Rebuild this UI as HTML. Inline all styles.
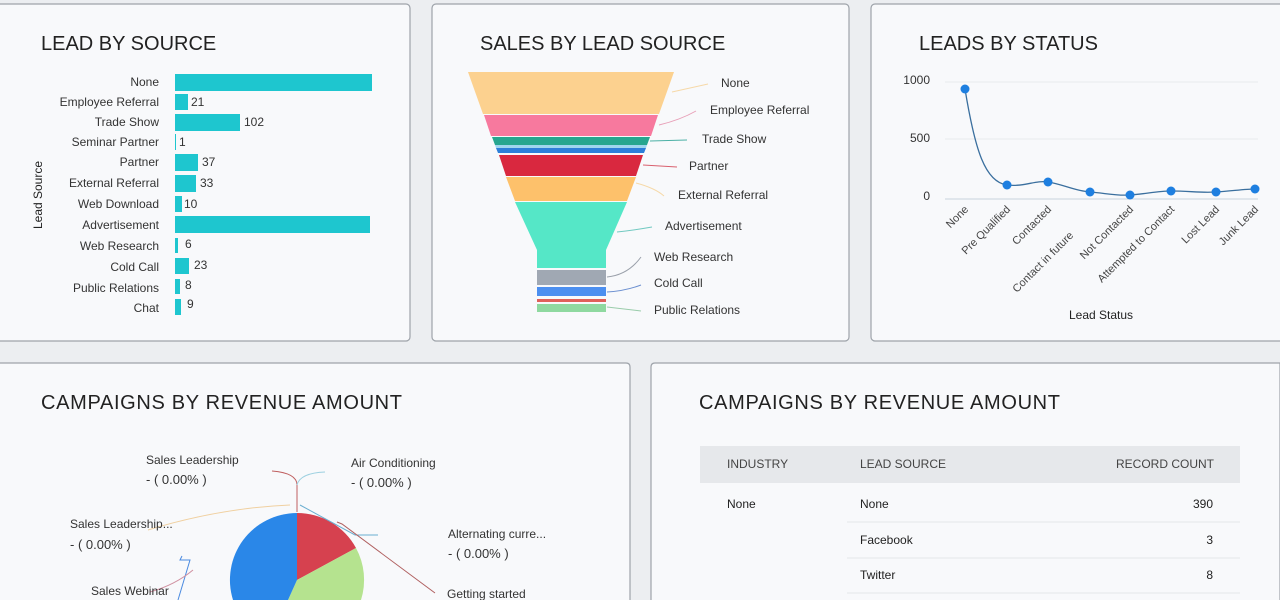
<!DOCTYPE html>
<html><head><meta charset="utf-8"><style>
html,body{margin:0;width:1280px;height:600px;overflow:hidden;background:#eceef1;font-family:"Liberation Sans",sans-serif}
svg{display:block}
svg text{font-family:"Liberation Sans",sans-serif}
</style></head><body>
<svg width="1280" height="600" xmlns="http://www.w3.org/2000/svg">
<g fill="#f8f9fb" stroke="#9ea3aa" stroke-width="1.2">
<rect x="-10" y="4" width="420" height="337" rx="4"/>
<rect x="432" y="4" width="417" height="337" rx="4"/>
<rect x="871" y="4" width="420" height="337" rx="4"/>
<path d="M-10,600 L-10,367 Q-10,363 -6,363 L626,363 Q630,363 630,367 L630,600"/>
<path d="M651,600 L651,367 Q651,363 655,363 L1280,363 L1280,600"/>
</g>
<g font-size="20" fill="#222">
<text x="41" y="50">LEAD BY SOURCE</text>
<text x="480" y="50">SALES BY LEAD SOURCE</text>
<text x="919" y="50">LEADS BY STATUS</text>
<text x="41" y="409" textLength="361">CAMPAIGNS BY REVENUE AMOUNT</text>
<text x="699" y="409" textLength="361">CAMPAIGNS BY REVENUE AMOUNT</text>
</g>
<g font-size="12" fill="#333" text-anchor="end">
<text x="159" y="86">None</text><text x="159" y="106">Employee Referral</text><text x="159" y="126">Trade Show</text><text x="159" y="146">Seminar Partner</text><text x="159" y="166">Partner</text><text x="159" y="187">External Referral</text><text x="159" y="208">Web Download</text><text x="159" y="229">Advertisement</text><text x="159" y="250">Web Research</text><text x="159" y="271">Cold Call</text><text x="159" y="292">Public Relations</text><text x="159" y="312">Chat</text>
</g>
<text transform="translate(42,195) rotate(-90)" font-size="12" text-anchor="middle" fill="#222">Lead Source</text>
<g fill="#1ec6cf">
<rect x="175" y="74" width="197" height="17"/><rect x="175" y="94" width="13" height="16"/><rect x="175" y="114" width="65" height="17"/><rect x="175" y="134" width="1" height="16"/><rect x="175" y="154" width="23" height="17"/><rect x="175" y="175" width="21" height="17"/><rect x="175" y="196" width="7" height="16"/><rect x="175" y="216" width="195" height="17"/><rect x="175" y="238" width="3" height="15"/><rect x="175" y="258" width="14" height="16"/><rect x="175" y="279" width="5" height="15"/><rect x="175" y="299" width="6" height="16"/>
</g>
<g font-size="12" fill="#333">
<text x="191" y="106">21</text><text x="244" y="126">102</text><text x="179" y="146">1</text><text x="202" y="166">37</text><text x="200" y="187">33</text><text x="184" y="208">10</text><text x="185" y="248">6</text><text x="194" y="269">23</text><text x="185" y="289">8</text><text x="187" y="308">9</text>
</g>
<g>
<polygon fill="#fcd18f" points="468,72 674,72 659,114 483,114"/>
<polygon fill="#f7799e" points="484,115 658,115 651,136 491,136"/>
<polygon fill="#26a68f" points="492,137 650,137 647,145 495,145"/>
<polygon fill="#9fd6ee" points="495,145 647,145 646,148 496,148"/>
<polygon fill="#2d7fd9" points="496,148 646,148 644,153 498,153"/>
<polygon fill="#d9283f" points="499,155 643,155 636,176 506,176"/>
<polygon fill="#fdc16b" points="506,177 636,177 627,201 515,201"/>
<polygon fill="#55e7c7" points="515,202 627,202 606,250 606,268 537,268 537,250"/>
<rect x="537" y="270" width="69" height="15" fill="#a0a8b3"/>
<rect x="537" y="287" width="69" height="9" fill="#4c8ff0"/>
<rect x="537" y="299" width="69" height="3" fill="#e0605a"/>
<rect x="537" y="304" width="69" height="8" fill="#8fd9a0"/>
</g>
<g fill="none" stroke-width="1">
<path d="M672,92 Q690,88 708,84" stroke="#f6d9a8"/>
<path d="M659,125 Q680,120 696,111" stroke="#e8a0b8"/>
<path d="M650,141 L687,140" stroke="#4bb0a5"/>
<path d="M643,165 L677,167" stroke="#d9606e"/>
<path d="M636,183 Q655,188 664,196" stroke="#f6d9a8"/>
<path d="M617,232 Q635,230 652,227" stroke="#70c9c0"/>
<path d="M607,277 Q628,275 641,257" stroke="#9aa0aa"/>
<path d="M607,292 Q625,291 641,285" stroke="#6b8fd0"/>
<path d="M607,307 L641,311" stroke="#99ccaa"/>
</g>
<g font-size="12" fill="#333">
<text x="721" y="87">None</text><text x="710" y="114">Employee Referral</text><text x="702" y="143">Trade Show</text><text x="689" y="170">Partner</text><text x="678" y="199">External Referral</text><text x="665" y="230">Advertisement</text><text x="654" y="261">Web Research</text><text x="654" y="287">Cold Call</text><text x="654" y="314">Public Relations</text>
</g>
<g stroke="#e8eaee" stroke-width="1"><line x1="945" y1="82" x2="1258" y2="82"/><line x1="945" y1="139" x2="1258" y2="139"/></g>
<line x1="945" y1="199" x2="1258" y2="199" stroke="#c9d3de"/>
<g font-size="12" fill="#333" text-anchor="end"><text x="930" y="84">1000</text><text x="930" y="142">500</text><text x="930" y="200">0</text></g>
<path d="M965,89 C975,150 985,182 1007,185 C1025,187 1035,180 1048,182 C1062,184 1075,191 1090,192 C1105,193 1115,196 1130,195 C1145,194 1158,191 1171,191 C1190,191 1200,193 1216,192 C1232,191 1245,189 1255,189" fill="none" stroke="#3a6f9e" stroke-width="1.3"/>
<g fill="#1e7fe0"><circle cx="965" cy="89" r="4.5"/><circle cx="1007" cy="185" r="4.5"/><circle cx="1048" cy="182" r="4.5"/><circle cx="1090" cy="192" r="4.5"/><circle cx="1130" cy="195" r="4.5"/><circle cx="1171" cy="191" r="4.5"/><circle cx="1216" cy="192" r="4.5"/><circle cx="1255" cy="189" r="4.5"/></g>
<g font-size="11" fill="#444" text-anchor="end">
<text transform="translate(969,210) rotate(-45)">None</text>
<text transform="translate(1011,210) rotate(-45)">Pre Qualified</text>
<text transform="translate(1052,210) rotate(-45)">Contacted</text>
<text transform="translate(1074,236) rotate(-45)">Contact in future</text>
<text transform="translate(1134,210) rotate(-45)">Not Contacted</text>
<text transform="translate(1175,210) rotate(-45)">Attempted to Contact</text>
<text transform="translate(1220,210) rotate(-45)">Lost Lead</text>
<text transform="translate(1259,210) rotate(-45)">Junk Lead</text>
</g>
<text x="1101" y="319" font-size="12" fill="#222" text-anchor="middle">Lead Status</text>
<path d="M297,580 L297,513 A67,67 0 0 1 356,548 Z" fill="#d6414f"/>
<path d="M297,580 L356,548 A67,67 0 0 1 361,600 L288,600 Z" fill="#b5e38f"/>
<path d="M297,580 L288,600 L233,600 A67,67 0 0 1 297,513 Z" fill="#2a87e8"/>
<g fill="none" stroke-width="1">
<path d="M297,512 L297,485 Q297,473 272,471" stroke="#c06060"/>
<path d="M297,485 Q300,473 325,472" stroke="#9cd0e0"/>
<path d="M148,530 Q220,508 290,505" stroke="#f0d0a0"/>
<path d="M300,505 L355,535 L378,535" stroke="#6aaed0"/>
<path d="M337,522 L342,524 L435,593" stroke="#b06060"/>
<path d="M182,556 L180,560 L190,560 L178,600" stroke="#4a8ae0"/>
<path d="M150,592 Q175,585 193,570" stroke="#d090a0"/>
</g>
<g font-size="12" fill="#333">
<text x="146" y="464">Sales Leadership</text><text x="146" y="484" font-size="13">- ( 0.00% )</text>
<text x="351" y="467">Air Conditioning</text><text x="351" y="487" font-size="13">- ( 0.00% )</text>
<text x="70" y="528">Sales Leadership...</text><text x="70" y="549" font-size="13">- ( 0.00% )</text>
<text x="448" y="538">Alternating curre...</text><text x="448" y="558" font-size="13">- ( 0.00% )</text>
<text x="91" y="595">Sales Webinar</text><text x="447" y="598">Getting started</text>
</g>
<rect x="700" y="446" width="540" height="37" fill="#e6e8eb"/>
<g font-size="12" fill="#444"><text x="727" y="468">INDUSTRY</text><text x="860" y="468">LEAD SOURCE</text><text x="1214" y="468" text-anchor="end">RECORD COUNT</text></g>
<g stroke="#e4e6e9"><line x1="847" y1="522" x2="1240" y2="522"/><line x1="847" y1="558" x2="1240" y2="558"/><line x1="847" y1="593" x2="1240" y2="593"/></g>
<g font-size="12" fill="#222"><text x="727" y="508">None</text><text x="860" y="508">None</text><text x="860" y="544">Facebook</text><text x="860" y="579">Twitter</text>
<g text-anchor="end"><text x="1213" y="508">390</text><text x="1213" y="544">3</text><text x="1213" y="579">8</text></g></g>
</svg>
</body></html>
